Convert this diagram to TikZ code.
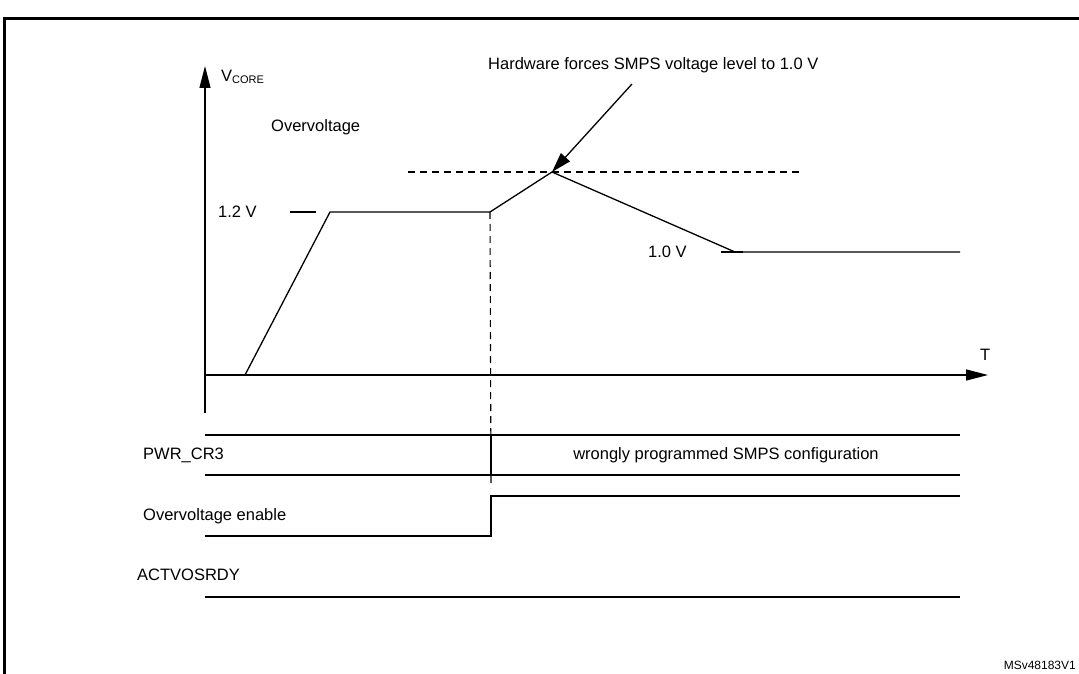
\documentclass[tikz,border=0pt]{standalone}
\usepackage{fontspec}
\setmainfont{Liberation Sans}
\usetikzlibrary{arrows.meta}
\begin{document}
\begin{tikzpicture}
[x=1pt,y=-1pt,%
  sigLine/.style={-,line width=1.3pt},%
  dashLine/.style={-,line width=1.1pt,dash pattern=on 7pt off 5pt},%
  axisLine/.style={-{Triangle[length=22pt,width=11pt]},line width=1.3pt},%
  lbl/.style={inner sep=0pt,font=\fontsize{16.5}{19}\selectfont}]
\useasboundingbox (0,0) rectangle (1079,674);
\clip (0,0) rectangle (1079,674);
\draw[line width=3pt] (4,19) rectangle (1090,690);
%% axes
\coordinate (yo) at (205,413);
\coordinate (ytop) at (205,66);
\coordinate (xo) at (205,375);
\coordinate (xend) at (988,375);
\draw[axisLine] (yo) -- (ytop);
\draw[axisLine] (xo) -- (xend);
\node[lbl,anchor=west] (vcore) at (221,77) {V\textsubscript{\fontsize{11}{12}\selectfont CORE}};
\node[lbl,anchor=west] (tlbl) at (980,355) {T};
%% voltage curve
\foreach \name/\x/\y in {c0/245/375, c1/330/212, c2/490/212, c3/552/172, c4/735/252, c5/960/252}
{
  \coordinate (\name) at (\x,\y);
}
\draw[sigLine] (c0) -- (c1) -- (c2) -- (c3) -- (c4) -- (c5);
\coordinate (ov1) at (408,172);
\coordinate (ov2) at (800,172);
\draw[dashLine] (ov1) -- (ov2);
\coordinate (vd) at (491,488);
\draw[dashLine] (c2) -- (vd);
%% levels
\node[lbl,anchor=west] (v12) at (218,212) {1.2 V};
\coordinate (t1a) at (290,212);
\coordinate (t1b) at (316,212);
\draw[sigLine] (t1a) -- (t1b);
\node[lbl,anchor=west] (v10) at (648,252) {1.0 V};
\coordinate (t2a) at (721,252);
\coordinate (t2b) at (743,252);
\draw[sigLine] (t2a) -- (t2b);
\node[lbl,anchor=west] (ovlbl) at (271,127) {Overvoltage};
\node[lbl,anchor=west] (hwlbl) at (488,65) {Hardware forces SMPS voltage level to 1.0 V};
\coordinate (arr) at (632,84);
\draw[-{Triangle[length=20pt,width=12pt]},line width=1.3pt] (arr) -- (c3);
%% PWR_CR3
\foreach \name/\x/\y in {p1/205/435, p2/960/435, p3/205/475, p4/960/475, p5/491/435, p6/491/475}
{
  \coordinate (\name) at (\x,\y);
}
\draw[sigLine] (p1) -- (p2);
\draw[sigLine] (p3) -- (p4);
\draw[sigLine] (p5) -- (p6);
\node[lbl,anchor=west] (pwr) at (143,455) {PWR\_CR3};
\node[lbl] (wrong) at (726,455) {wrongly programmed SMPS configuration};
%% Overvoltage enable
\foreach \name/\x/\y in {e1/205/536, e2/491/536, e3/491/496, e4/960/496}
{
  \coordinate (\name) at (\x,\y);
}
\draw[sigLine] (e1) -- (e2) -- (e3) -- (e4);
\node[lbl,anchor=west] (oven) at (143,516) {Overvoltage enable};
%% ACTVOSRDY
\coordinate (a1) at (205,597);
\coordinate (a2) at (960,597);
\draw[sigLine] (a1) -- (a2);
\node[lbl,anchor=west] (actv) at (137,575) {ACTVOSRDY};
\node[inner sep=0pt,anchor=east,font=\fontsize{12}{14}\selectfont] (ref) at (1076,665) {MSv48183V1};
\end{tikzpicture}
\end{document}
